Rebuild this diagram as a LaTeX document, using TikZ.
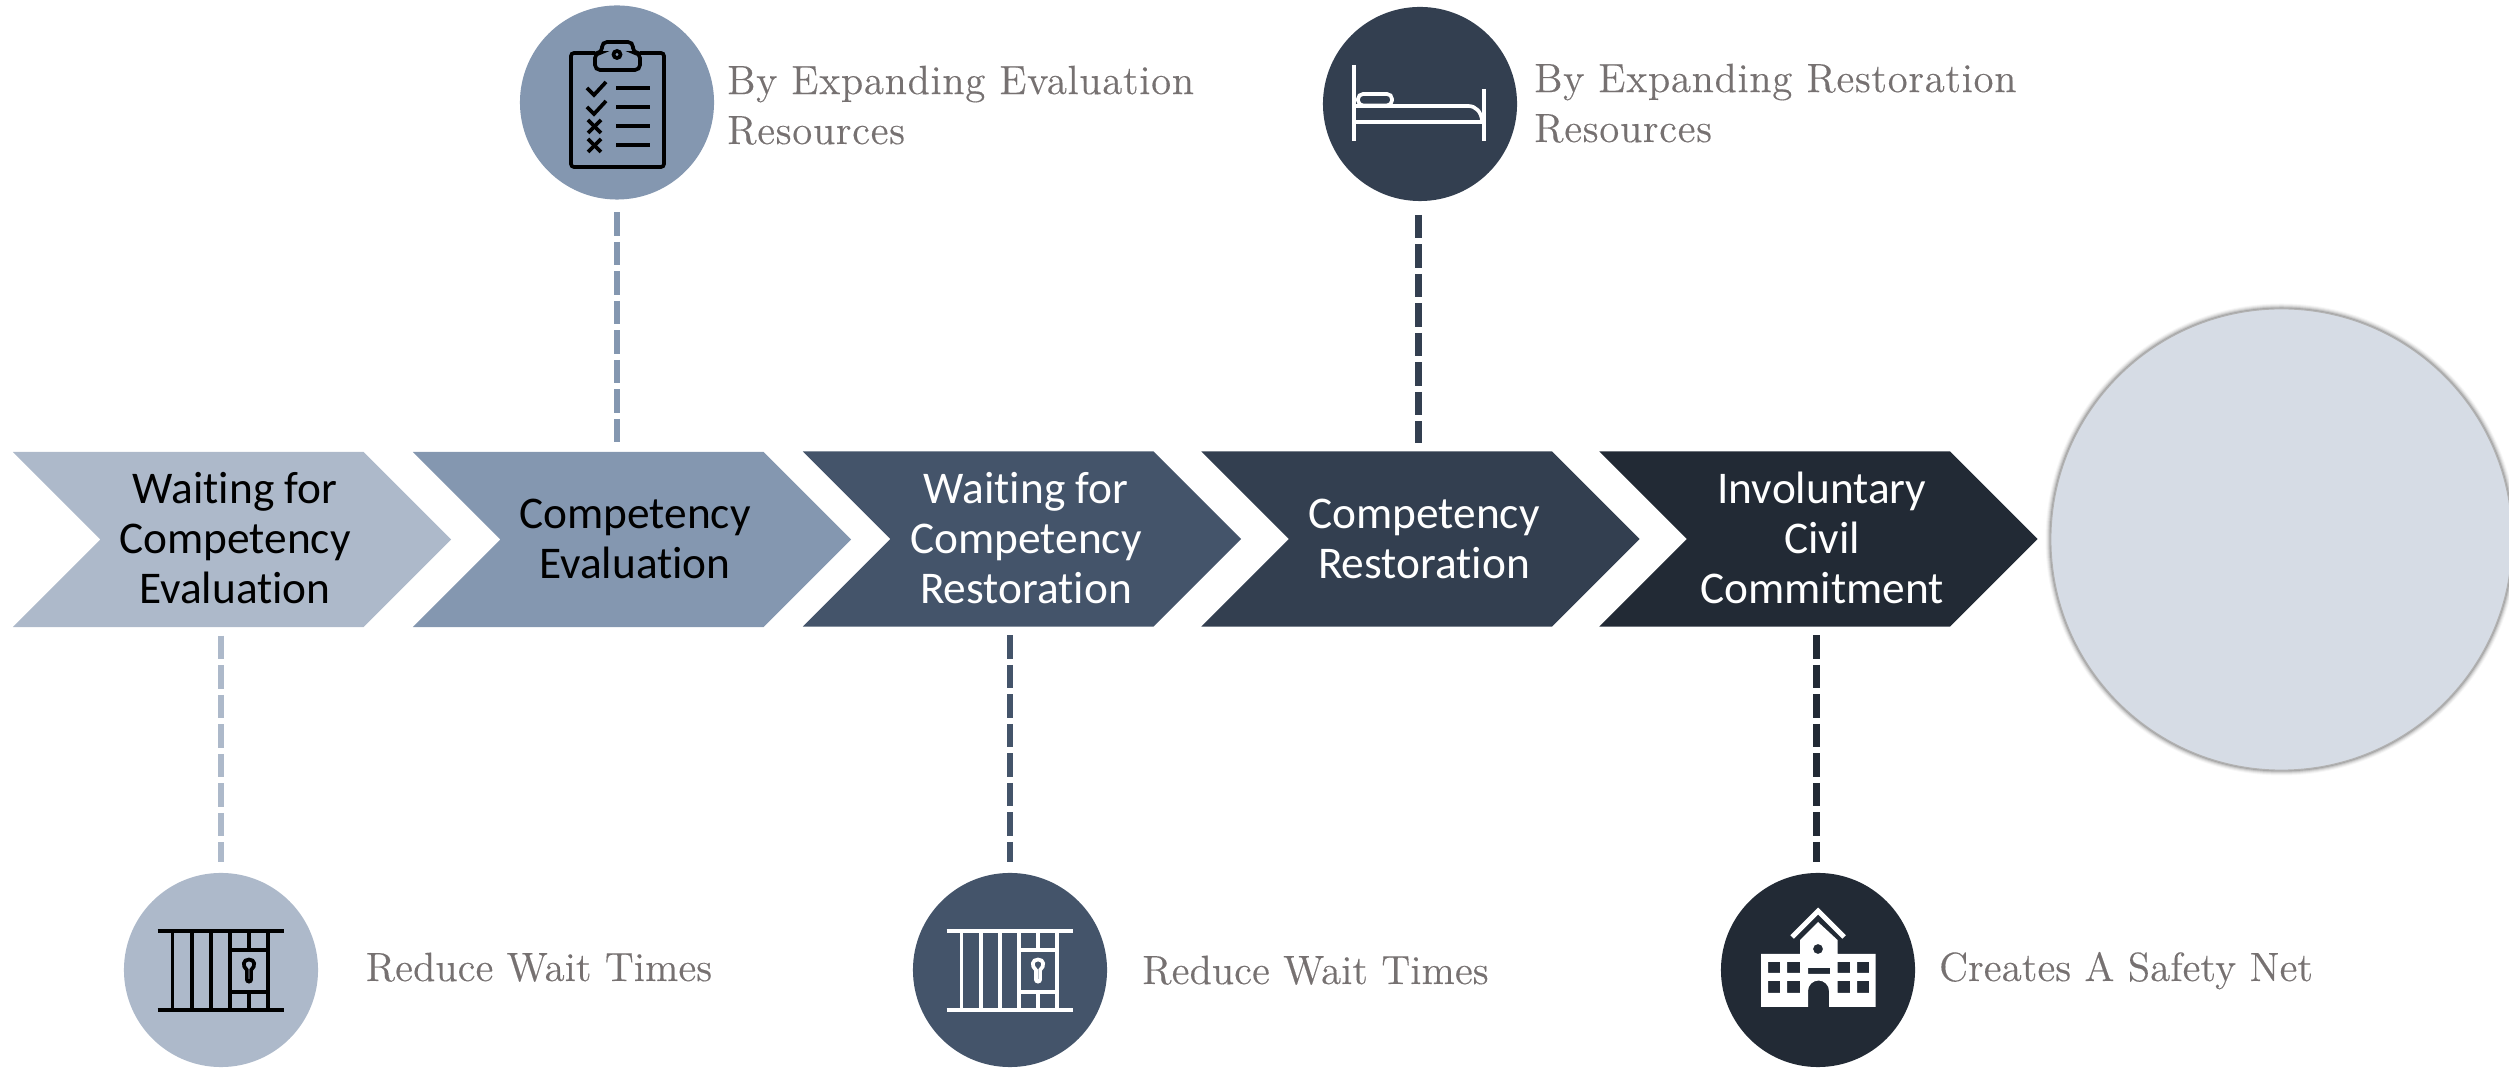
\documentclass[tikz,border=0pt]{standalone}
\usepackage{fontspec}
\setsansfont[Ligatures = NoCommon]{Carlito}
\newfontfamily\capfont[LetterSpace = 1.8, FakeBold = 0.3]{Latin Modern Roman}
\newfontfamily\capfonttight[LetterSpace = 0.3, FakeBold = 0.3]{Latin Modern Roman}
\usetikzlibrary{shapes.symbols}

\definecolor{stepA}{HTML}{ADB9CA}
\definecolor{stepB}{HTML}{8497B0}
\definecolor{stepC}{HTML}{44546A}
\definecolor{stepD}{HTML}{333F50}
\definecolor{stepE}{HTML}{222A35}
\definecolor{goalfill}{HTML}{D6DCE5}
\definecolor{captext}{HTML}{767171}

\tikzset{
    chevron/.style = {signal, signal to = east, signal from = west, signal pointer angle = 90,
        minimum width = 4.38cm, minimum height = 1.75cm, inner sep = 0pt, fill = #1},
    steptext/.style = {font = {\sffamily\fontsize{12.9}{14.2}\selectfont}, align = center, #1},
    badge/.style = {circle, minimum size = 1.94cm, inner sep = 0pt, fill = #1},
    stem/.style = {draw = #1, line width = 0.067cm, dash pattern = on 0.233cm off 0.062cm},
    caption/.style = {font = {\capfont\fontsize{11.6}{14.2}\selectfont}, text = captext, align = left, anchor = base west, inner sep = 0pt},
    shortcap/.style = {caption, font = {\capfonttight\fontsize{11.6}{14.2}\selectfont}},
    icon/.style = {line width = 1.05pt, draw = #1}
}

\newcommand{\jailicon}[2]{
    \begin{scope}[xshift = #1 * 0.01cm, icon = #2]
        \draw (157.5, 931) -- (284, 931);
        \draw (157.5, 1010) -- (284, 1010);
        \draw (172.6, 931) -- (172.6, 1010);
        \draw (192, 931) -- (192, 1010);
        \draw (211, 931) -- (211, 1010);
        \draw (230, 931) -- (230, 1010);
        \draw (268, 931) -- (268, 1010);
        \draw (249, 931) -- (249, 950);
        \draw (249, 992) -- (249, 1010);
        \draw (230, 950) -- (268, 950);
        \draw (230, 992) -- (268, 992);
        \draw (246.9, 970) .. controls (242, 966) and (243, 959.5) .. (249, 959.5)
            .. controls (255, 959.5) and (256, 966) .. (251.1, 970)
            -- (251.1, 979.5) arc (0 : 180 : 2.1) -- cycle;
    \end{scope}
}

\begin{document}
\begin{tikzpicture}[x = 0.01cm, y = -0.01cm]
    \useasboundingbox (0, 0) rectangle (2509, 1068);

    \node[chevron = stepA] (waiteval) at (232, 539.5) {};
    \node[chevron = stepB] (eval) at (632, 539.5) {};
    \node[chevron = stepC] (waitrest) at (1022, 539) {};
    \node[chevron = stepD] (rest) at (1420.5, 539) {};
    \node[chevron = stepE] (commit) at (1818.5, 539) {};

    \node[steptext = black] (waitevaltext) at (235, 538) {Waiting for\\Competency\\Evaluation};
    \node[steptext = black] (evaltext) at (635, 539) {Competency\\Evaluation};
    \node[steptext = white] (waitresttext) at (1026, 538) {Waiting for\\Competency\\Restoration};
    \node[steptext = white] (resttext) at (1424, 539) {Competency\\Restoration};
    \node[steptext = white] (committext) at (1822, 538) {Involuntary\\Civil\\Commitment};

    \foreach \r/\o in {236/0.03, 235/0.05, 234/0.07, 233/0.1, 232/0.14} {
        \fill[black, opacity = \o] (2281.5, 539.5) circle (\r);
    }
    \node[circle, minimum size = 4.61cm, inner sep = 0pt, fill = goalfill, draw = black!30, line width = 0.3pt] (goal) at (2281.5, 539.5) {};

    \node[badge = stepB] (evalbadge) at (617, 102.5) {};
    \node[badge = stepD] (restbadge) at (1420, 104) {};
    \node[badge = stepA] (waitevalbadge) at (221, 970) {};
    \node[badge = stepC] (waitrestbadge) at (1010, 970) {};
    \node[badge = stepE] (commitbadge) at (1818, 970) {};

    \draw[stem = stepB, shorten <= 0.12cm, shorten >= 0.035cm] (evalbadge.south) -- (evalbadge.south |- eval.north);
    \draw[stem = stepD, shorten <= 0.13cm, shorten >= 0.08cm] ([xshift = -0.015cm]restbadge.south) -- ([xshift = -0.015cm]restbadge.south |- rest.north);
    \draw[stem = stepA, shorten <= 0.08cm, shorten >= 0.1cm] (waitevalbadge.north |- waiteval.south) -- (waitevalbadge.north);
    \draw[stem = stepC, shorten <= 0.08cm, shorten >= 0.1cm] (waitrestbadge.north |- waitrest.south) -- (waitrestbadge.north);
    \draw[stem = stepE, shorten <= 0.08cm, shorten >= 0.1cm] ([xshift = -0.012cm]commitbadge.north |- commit.south) -- ([xshift = -0.012cm]commitbadge.north);

    \node[caption] (evalcap) at (726.5, 144) {By Expanding Evaluation\\Resources};
    \node[caption] (restcap) at (1533.5, 142) {By Expanding Restoration\\Resources};
    \node[shortcap] (waitevalcap) at (365, 981) {Reduce Wait Times};
    \node[shortcap] (waitrestcap) at (1141.5, 984) {Reduce Wait Times};
    \node[shortcap] (commitcap) at (1938.5, 981) {Creates A Safety Net};

    \jailicon{0}{black}
    \jailicon{789}{white}

    \begin{scope}[icon = black]
        \draw[rounded corners = 0.03cm] (595, 53) -- (571, 53) -- (571, 167) -- (664, 167) -- (664, 53) -- (640, 53);
        \draw[rounded corners = 0.05cm] (595, 53) -- (595, 70) -- (640, 70) -- (640, 53) -- (633, 53) -- (633, 42) -- (602, 42) -- (602, 53) -- cycle;
        \draw (617, 54.5) circle (3.5);
        \draw (616, 88) -- (650, 88);
        \draw (616, 107) -- (650, 107);
        \draw (616, 126) -- (650, 126);
        \draw (616, 145) -- (650, 145);
        \draw (587, 88) -- (594, 95) -- (606, 82);
        \draw (587, 107) -- (594, 114) -- (606, 101);
        \draw (588, 120) -- (601, 133);
        \draw (601, 120) -- (588, 133);
        \draw (588, 139) -- (601, 152);
        \draw (601, 139) -- (588, 152);
    \end{scope}

    \begin{scope}[icon = white]
        \draw (1354, 65) -- (1354, 141);
        \draw (1484, 89) -- (1484, 141);
        \draw (1354, 122) -- (1484, 122);
        \draw (1356, 106) -- (1468, 106) .. controls (1476, 106) and (1481, 112) .. (1482, 120);
        \draw[rounded corners = 0.05cm] (1358, 94) rectangle (1392, 105.5);
    \end{scope}

    \fill[white, even odd rule] (1761, 954) -- (1800, 954) -- (1800, 940) -- (1818, 922) -- (1837.5, 940) -- (1837.5, 954) -- (1875.5, 954) -- (1875.5, 1007) -- (1829, 1007) -- (1829, 991)
        arc (0 : -180 : 10.5) -- (1808, 1007) -- (1761, 1007) -- cycle
        (1768, 962) rectangle (1780, 973) (1787, 962) rectangle (1800, 973)
        (1768, 981) rectangle (1780, 993) (1787, 981) rectangle (1800, 993)
        (1837.5, 962) rectangle (1850, 973) (1857, 962) rectangle (1869, 973)
        (1837.5, 981) rectangle (1850, 993) (1857, 981) rectangle (1869, 993)
        (1808, 968) rectangle (1830, 974) (1818, 949) circle (5);
    \draw[white, line width = 1.4pt] (1792, 937) -- (1818, 911) -- (1844, 937);
\end{tikzpicture}
\end{document}
